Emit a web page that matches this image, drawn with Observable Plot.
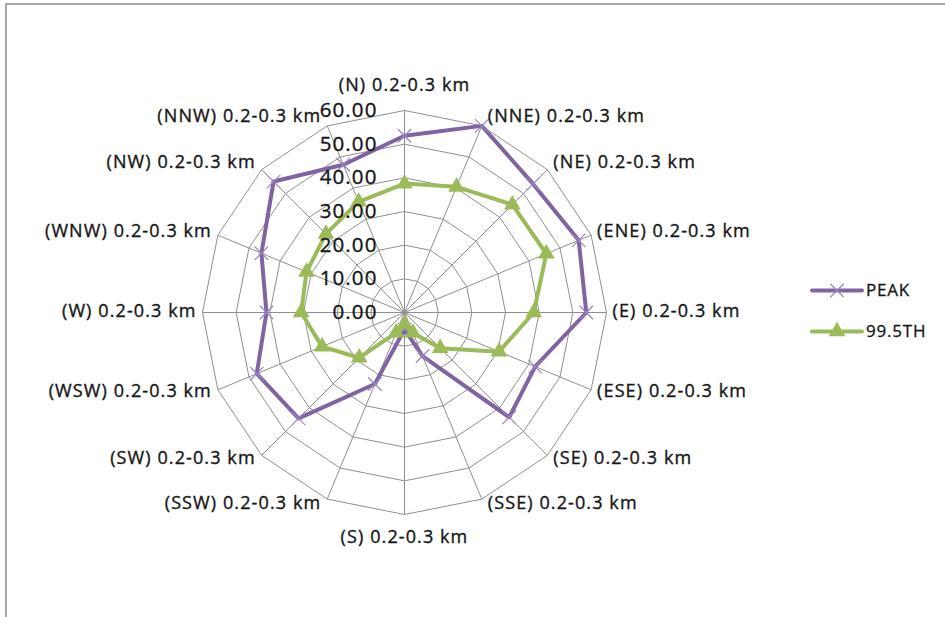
<!DOCTYPE html>
<html>
<head>
<meta charset="utf-8">
<script src="https://cdn.jsdelivr.net/npm/d3@7"></script>
<script src="https://cdn.jsdelivr.net/npm/@observablehq/plot@0.6"></script>
<style>
  html, body { margin: 0; padding: 0; background: #fff; }
  body { width: 945px; height: 617px; position: relative; overflow: hidden; font-family: "Open Sans", sans-serif; }
  #frame { position: absolute; left: 5px; top: 3px; right: -4px; bottom: -4px; border-top: 2px solid #a8a8a8; border-left: 2px solid #a8a8a8; }
  #chart { position: absolute; left: 0; top: 0; }
  #legend { position: absolute; left: 808px; top: 268px; }
</style>
</head>
<body>
<div id="frame"></div>
<div id="chart"></div>
<div id="legend"></div>
<script>
// Wind-direction sectors, clockwise from north
const directions = ["N", "NNE", "NE", "ENE", "E", "ESE", "SE", "SSE", "S", "SSW", "SW", "WSW", "W", "WNW", "NW", "NNW"];
const directionLabels = [
  "(N) 0.2-0.3 km", "(NNE) 0.2-0.3 km", "(NE) 0.2-0.3 km", "(ENE) 0.2-0.3 km",
  "(E) 0.2-0.3 km", "(ESE) 0.2-0.3 km", "(SE) 0.2-0.3 km", "(SSE) 0.2-0.3 km",
  "(S) 0.2-0.3 km", "(SSW) 0.2-0.3 km", "(SW) 0.2-0.3 km", "(WSW) 0.2-0.3 km",
  "(W) 0.2-0.3 km", "(WNW) 0.2-0.3 km", "(NW) 0.2-0.3 km", "(NNW) 0.2-0.3 km"
];

// Series values per direction
const peakValues = [52.5, 60.0, 54.0, 56.0, 54.0, 42.0, 44.0, 14.0, 5.0, 23.0, 44.5, 47.5, 41.0, 46.0, 55.0, 47.5];
const p995Values = [38.3, 40.4, 45.3, 45.6, 38.4, 30.4, 15.0, 6.5, 3.5, 6.5, 19.0, 26.5, 30.7, 31.5, 33.0, 35.6];

// Radial axis
const radialTicks = [0, 10, 20, 30, 40, 50, 60];
const radialTickLabels = ["0.00", "10.00", "20.00", "30.00", "40.00", "50.00", "60.00"];

const seriesNames = ["PEAK", "99.5TH"];
const seriesColors = ["#8064a2", "#9bbb59"];

// Layout
const W = 945, H = 617;
const cx = 404, cy = 312, R = 202;   // centre and outer radius in pixels
const rMax = 60;
const k = R / rMax;                  // pixels per data unit

const angle = i => (i * 2 * Math.PI) / directions.length;
const polar = (i, r) => ({x: r * Math.sin(angle(i)), y: r * Math.cos(angle(i))});

// Grid rings (closed 16-gons) and spokes
const rings = radialTicks.filter(t => t > 0).flatMap(t =>
  d3.range(directions.length + 1).map(j => ({ring: t, ...polar(j % directions.length, t)}))
);
const spokes = directions.map((d, i) => ({x1: 0, y1: 0, x2: polar(i, rMax).x, y2: polar(i, rMax).y}));

// Series polygons (closed)
const closed = (values, name) =>
  d3.range(values.length + 1).map(j => ({series: name, value: values[j % values.length], ...polar(j % values.length, values[j % values.length])}));
const peakPts = closed(peakValues, "PEAK");
const p995Pts = closed(p995Values, "99.5TH");

// Category labels sit just outside the outer ring
const labelData = directionLabels.map((label, i) => {
  const s = Math.sin(angle(i)), c = Math.cos(angle(i));
  let dxPx, dyPx, anchor;
  if (Math.abs(s) < 1e-6) {
    anchor = "middle"; dxPx = 0; dyPx = c > 0 ? -25 : 23;
  } else {
    anchor = s > 0 ? "start" : "end";
    dxPx = s > 0 ? 6 : -6;
    dyPx = c > 0 ? -1 - 9 * c : -1 - 5.5 * c;
  }
  const p = polar(i, rMax);
  return {label, anchor, x: p.x + dxPx / k, y: p.y - dyPx / k};
});
const tickData = radialTicks.map((t, i) => ({x: 0, y: t, label: radialTickLabels[i]}));

const textColor = "#151515";
const gridColor = "#8f8f8f";

const chart = Plot.plot({
  width: W,
  height: H,
  marginLeft: cx - R,
  marginRight: W - (cx + R),
  marginTop: cy - R,
  marginBottom: H - (cy + R),
  x: {domain: [-rMax, rMax], axis: null},
  y: {domain: [-rMax, rMax], axis: null},
  style: {background: "transparent", overflow: "visible"},
  marks: [
    Plot.line(rings, {x: "x", y: "y", z: "ring", stroke: gridColor, strokeWidth: 1}),
    Plot.link(spokes, {x1: "x1", y1: "y1", x2: "x2", y2: "y2", stroke: gridColor, strokeWidth: 1}),
    Plot.line(peakPts, {x: "x", y: "y", stroke: seriesColors[0], strokeWidth: 4, strokeLinejoin: "round"}),
    Plot.line(p995Pts, {x: "x", y: "y", stroke: seriesColors[1], strokeWidth: 4, strokeLinejoin: "round"}),
    Plot.dot(peakPts.slice(0, -1), {x: "x", y: "y", symbol: "times", r: 6.2, stroke: "#9a86c0", strokeWidth: 1.2}),
    Plot.dot(p995Pts.slice(0, -1), {x: "x", y: "y", symbol: "triangle", r: 6.2, fill: seriesColors[1], stroke: "none"}),
    Plot.text(tickData, {x: "x", y: "y", text: "label", textAnchor: "end", dx: -27, fontSize: 20.5, fill: textColor,
      fontFamily: "Open Sans"}),
    ...["start", "end", "middle"].map(a =>
      Plot.text(labelData.filter(d => d.anchor === a), {x: "x", y: "y", text: "label", textAnchor: a,
        fontSize: 18, fill: textColor, fontFamily: "Open Sans"})
    )
  ]
});
// Slightly heavier glyphs and wider tracking for all chart text
d3.select(chart).selectAll("text")
  .style("letter-spacing", "1.1px")
  .attr("stroke", textColor).attr("stroke-width", 0.35).attr("paint-order", "stroke");
document.getElementById("chart").append(chart);

// Legend
const leg = d3.select("#legend").append("svg").attr("width", 137).attr("height", 80);
const legendRows = [
  {name: seriesNames[0], color: seriesColors[0], y: 22.5, symbol: d3.symbolTimes},
  {name: seriesNames[1], color: seriesColors[1], y: 63.5, symbol: d3.symbolTriangle}
];
legendRows.forEach(row => {
  const g = leg.append("g");
  g.append("line").attr("x1", 4).attr("x2", 54).attr("y1", row.y).attr("y2", row.y)
    .attr("stroke", row.color).attr("stroke-width", 4).attr("stroke-linecap", "round");
  const sym = g.append("path").attr("transform", `translate(29,${row.y})`)
    .attr("d", d3.symbol(row.symbol, Math.PI * 6.2 * 6.2)());
  if (row.symbol === d3.symbolTimes) sym.attr("fill", "none").attr("stroke", "#9a86c0").attr("stroke-width", 1.2);
  else sym.attr("fill", row.color);
  g.append("text").attr("x", 58).attr("y", row.y).attr("dy", "0.35em")
    .attr("font-family", "Open Sans").attr("font-size", 17).attr("fill", textColor)
    .attr("stroke", textColor).attr("stroke-width", 0.3)
    .style("letter-spacing", "0.8px").text(row.name);
});
</script>
</body>
</html>
